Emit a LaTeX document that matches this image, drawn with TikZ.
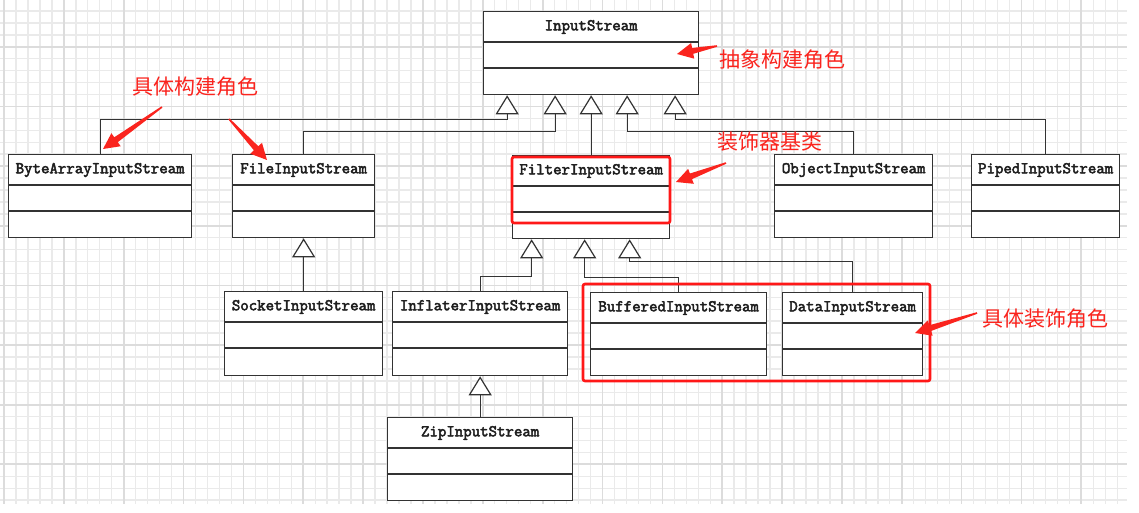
\documentclass[tikz,border=0pt]{standalone}
\usepackage{fontspec}
\newfontfamily\cjk{Noto Sans CJK SC}
\newfontfamily\clsfont{Latin Modern Mono}[AutoFakeBold=3]
\usetikzlibrary{arrows.meta,calc}
\definecolor{gridminor}{RGB}{234,234,234}
\definecolor{gridmajor}{RGB}{220,220,220}
\definecolor{linec}{RGB}{51,51,51}
\definecolor{annored}{RGB}{250,36,30}
\definecolor{boxred}{RGB}{255,24,24}
\newcommand\umlcls[6]{%
  \node[clsbox, anchor=north west, minimum width={#4-#2}, minimum height={#5-#3}] (#1) at (#2,#3) {};
  \draw[clsline] ($(#1.north west)+(0,31)$) -- ($(#1.north east)+(0,31)$);
  \draw[clsline] ($(#1.north west)+(0,57)$) -- ($(#1.north east)+(0,57)$);
  \node[clstitle] (#1-t) at ($(#1.north)+(0,16)$) {#6};}
\newcommand\redarrow[2]{%
  \coordinate (ra-n) at ($(#2)!16pt!(#1)$);
  \fill[annored] ($(#1)!0.8pt!90:(#2)$) -- ($(ra-n)!3pt!90:(#2)$) -- ($(ra-n)!8pt!90:(#2)$) -- (#2)
     -- ($(ra-n)!8pt!-90:(#2)$) -- ($(ra-n)!3pt!-90:(#2)$) -- ($(#1)!0.8pt!-90:(#2)$) -- cycle;}
\begin{document}
\begin{tikzpicture}[x=1pt,y=-1pt,
  clsbox/.style={draw=linec, line width=1.3pt, fill=white, inner sep=0pt},
  clsline/.style={draw=linec, line width=1.2pt},
  clstitle/.style={inner sep=0pt, font=\clsfont\bfseries\fontsize{16.4}{18}\selectfont, text=black!88},
  inh/.style={draw=linec, line width=1.2pt, -{Triangle[width=23pt,length=19pt,fill=white,line width=1.2pt]}},
  lab/.style={inner sep=0pt, anchor=west, text=annored, font=\cjk\fontsize{21}{24}\selectfont},
  redbox/.style={draw=boxred, line width=2.6pt, rounded corners=2pt}]
\useasboundingbox (0,0) rectangle (1139,513);
\fill[white] (0,0) rectangle (1139,513);
% grid
\foreach \k in {0,...,93} \draw[gridminor, line width=1.4pt] ({4+11.97*\k},0) -- ({4+11.97*\k},504);
\foreach \k in {0,...,41} \draw[gridminor, line width=1.4pt] (0,{11+11.93*\k}) -- (1127,{11+11.93*\k});
\foreach \k in {0,5,...,90} \draw[gridmajor, line width=1.7pt] ({4+11.97*\k},0) -- ({4+11.97*\k},504);
\foreach \k in {3,8,...,38} \draw[gridmajor, line width=1.7pt] (0,{11+11.93*\k}) -- (1127,{11+11.93*\k});
% classes
\umlcls{is}{483}{11}{698}{94}{InputStream}
\umlcls{bais}{8}{154}{191}{237}{ByteArrayInputStream}
\umlcls{fis}{232}{154}{374}{237}{FileInputStream}
\umlcls{filter}{512}{155}{669}{238}{FilterInputStream}
\umlcls{obj}{774}{154}{932}{237}{ObjectInputStream}
\umlcls{piped}{971}{154}{1119}{237}{PipedInputStream}
\umlcls{socket}{224}{291}{382}{375}{SocketInputStream}
\umlcls{inflater}{392}{291}{567}{375}{InflaterInputStream}
\umlcls{buffered}{590}{292}{766}{375}{BufferedInputStream}
\umlcls{data}{782}{292}{922}{375}{DataInputStream}
\umlcls{zip}{387}{417}{572}{500}{ZipInputStream}
% inheritance
\draw[inh] (bais.north) |- ($(is.south)+(-84,24)$) -- ($(is.south)+(-84,0)$);
\draw[inh] (fis.north) |- ($(is.south)+(-36,36)$) -- ($(is.south)+(-36,0)$);
\draw[inh] (filter.north) -- (is.south);
\draw[inh] (obj.north) |- ($(is.south)+(36,36)$) -- ($(is.south)+(36,0)$);
\draw[inh] (piped.north) |- ($(is.south)+(84,24)$) -- ($(is.south)+(84,0)$);
\draw[inh] (socket.north) -- (fis.south);
\draw[inh] (inflater.north) |- ($(filter.south)+(-59.5,37)$) -- ($(filter.south)+(-59.5,0)$);
\draw[inh] (buffered.north) |- ($(filter.south)+(-6.5,38)$) -- ($(filter.south)+(-6.5,0)$);
\draw[inh] (data.north) |- ($(filter.south)+(38.5,22)$) -- ($(filter.south)+(38.5,0)$);
\draw[inh] (zip.north) -- (inflater.south);
% red highlight boxes
\draw[redbox] (512,157) rectangle (670,223);
\draw[redbox] (583,284) rectangle (930,381);
% labels
\node[lab] (l-abs) at (719,60) {抽象构建角色};
\node[lab] (l-con) at (132,87) {具体构建角色};
\node[lab] (l-dec) at (717,142) {装饰器基类};
\node[lab] (l-cdec) at (982,319) {具体装饰角色};
% arrows
\coordinate (t1) at (162,107); \coordinate (p1) at (103,149);
\coordinate (t2) at (229,119); \coordinate (p2) at (267,160);
\coordinate (t3) at (717,46);  \coordinate (p3) at (677,54);
\coordinate (t4) at (726,163); \coordinate (p4) at (676,182);
\coordinate (t5) at (977,313); \coordinate (p5) at (915,333);
\redarrow{t1}{p1}
\redarrow{t2}{p2}
\redarrow{t3}{p3}
\redarrow{t4}{p4}
\redarrow{t5}{p5}
\end{tikzpicture}
\end{document}
